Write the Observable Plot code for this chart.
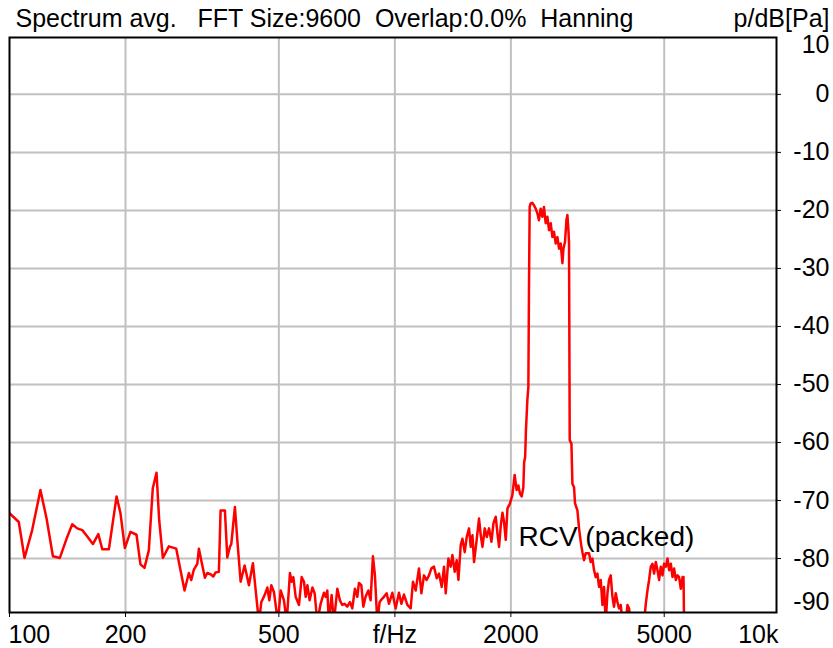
<!DOCTYPE html>
<html><head><meta charset="utf-8">
<script src="https://cdn.jsdelivr.net/npm/d3@7"></script>
<script src="https://cdn.jsdelivr.net/npm/@observablehq/plot@0.6"></script>
<style>
html,body{margin:0;padding:0;background:#fff;}
#chart svg text{white-space:pre;}
</style></head><body><div id="chart"></div>
<script>
// Spectrum readings: [frequency Hz, level dB]
const lowBand = [[96,-68.5],[100,-72.2],[105.7,-73.7],[109.4,-79.9],[114.5,-75.1],[120.3,-68.2],[124.8,-73.1],[129.6,-79.6],[135.1,-79.9],[140.6,-76.6],[145.5,-74.1],[149.9,-74.8],[154.5,-75.1],[159.2,-76.2],[164.6,-77.5],[170.0,-75.8],[174.1,-78.4],[181.1,-78.4],[189.6,-69.3],[194.1,-72.2],[199.2,-78.2],[206.0,-75.4],[213.6,-75.9],[218.7,-81.0],[224.0,-81.6],[229.9,-78.6],[235.4,-67.9],[240.7,-65.2],[244.6,-73.4],[250.0,-79.9],[259.1,-77.9],[270.8,-78.3],[284.6,-85.5],[292.0,-82.5],[296.3,-83.7],[300.9,-81.9],[307.1,-80.9],[310.1,-78.3]];
const midBand = [[315.1,-80.6],[321.4,-83.3],[326.0,-82.5],[332.5,-82.7],[337.9,-83.1],[342.6,-82.4],[349.4,-82.3],[353.0,-71.7],[362.2,-71.7],[367.4,-79.8],[373.1,-78.0],[376.3,-77.5],[384.5,-71.1],[390.1,-76.8],[397.9,-84.0],[407.5,-81.2],[418.1,-84.6],[428.2,-80.8],[443.9,-91],[450.3,-87.5],[459.2,-86.3],[466.7,-85.0],[472.3,-87.2],[478.0,-84.6],[485.6,-85.8],[497.3,-91],[505.4,-85.5],[515.5,-87.2],[523.9,-91],[534.3,-82.5],[539.8,-84.0],[545.2,-83.2],[552.8,-86.6],[563.9,-88.0],[573.0,-83.2],[580.9,-84.0],[586.9,-86.6],[592.9,-84.6],[601.0,-87.2],[611.0,-85.0],[619.4,-86.0],[629.1,-91],[641.7,-87.8],[654.4,-85.9],[661.1,-86.6],[667.9,-85.5],[674.3,-91],[685.3,-86.3],[694.7,-91],[709.1,-85.2],[720.2,-87.2],[730.6,-88.0],[740.6,-87.8],[752.7,-88.3],[764.5,-87.5],[775.4,-88.6],[787.7,-85.2],[799.1,-86.6],[806.8,-84.2],[818.4,-84.6],[828.2,-88.3],[839.4,-86.6],[853.4,-85.5],[865.1,-87.2],[877.1,-79.6],[887.7,-82.9],[900.5,-91],[913.0,-87.5],[927.8,-86.9],[937.0,-86.6],[952.2,-86.0],[965.3,-87.8],[985.1,-85.9]];
const riseBand = [[1004.8,-88.6],[1024.8,-85.9],[1039.6,-87.8],[1055.9,-86.2],[1077.5,-88.0],[1099,-88.6],[1114.3,-84.0],[1132.4,-85.5],[1155,-81.7],[1171.7,-86.0],[1190.1,-82.9],[1209.0,-83.7],[1226.2,-82.9],[1244.1,-81.7],[1263.5,-81.4],[1284.1,-83.4],[1301.8,-82.6],[1323.1,-84.9],[1341.5,-81.4],[1355.1,-86.0],[1377.1,-80.0],[1396.2,-81.4],[1410.5,-79.4],[1429.9,-82.3],[1447.1,-80.3],[1462.0,-83.7],[1482.2,-77.7],[1497.2,-76.6],[1518.0,-78.9],[1536.2,-76.3],[1557.6,-74.8],[1573.7,-78.0],[1589.8,-76.0],[1605.0,-80.6],[1628.3,-77.1],[1653.6,-73.1],[1670.6,-76.0],[1687.7,-78.0],[1711.0,-74.8],[1731.6,-76.3],[1755.7,-74.8],[1781.1,-77.1],[1802.3,-73.9],[1827.3,-72.8],[1846.0,-75.7],[1863.8,-78.0],[1883.0,-74.3],[1902.0,-72.1],[1920.2,-73.7],[1939.7,-76.8],[1959.5,-71.4],[1989.0,-70.5],[2017.7,-69.1],[2045.7,-65.6],[2070.4,-68.2],[2091.6,-67.4],[2111.5,-68.8],[2133.1,-69.3],[2154.8,-67.7],[2165.2,-63.4],[2178.1,-62.5],[2188.7,-57.9],[2207.1,-52.7],[2220.4,-50.4]];
const peakBand = [[2228.4,-33.7],[2237.8,-19.4],[2251.2,-18.8],[2274.3,-18.7],[2296.1,-19.1],[2319.4,-19.7],[2342.9,-20.5],[2365.3,-21.7],[2389.6,-19.7],[2414.0,-21.1],[2437.3,-19.4],[2462.6,-22.2],[2488.1,-21.1],[2512,-23.4],[2537.6,-22.2],[2563.5,-24.6],[2588.1,-23.7],[2614.7,-25.7],[2641.4,-24.6],[2666.7,-26.6],[2693.9,-25.7],[2721.5,-29.1],[2737.8,-26.6],[2764.2,-25.4],[2787.6,-21.7],[2804.1,-20.8],[2821.0,-23.4],[2831.0,-25.7],[2842.8,-59.6],[2872.0,-60.2],[2889.1,-67.1],[2917.0,-67.7],[2934.3,-70.5],[2976.5,-71.7],[3008.9,-75.1],[3045,-77.7]];
const highBand = [[3066.9,-78.9],[3096.7,-80.3],[3128.2,-79.1],[3190.5,-79.1],[3223.0,-80.6],[3255.9,-80.0],[3287.5,-82.0],[3320.7,-83.2],[3354.9,-82.6],[3387.1,-84.9],[3421.9,-83.7],[3456.7,-88.0],[3490.0,-84.9],[3525.6,-91],[3561.4,-86.0],[3595.5,-83.7],[3632.5,-82.9],[3669.5,-86.6],[3704.9,-88.3],[3742.9,-86.0],[3781.1,-87.5],[3817.5,-88.6],[3856.7,-88.0],[3896.0,-91],[3973.8,-91],[4014.4,-88.0],[4053.1,-88.6],[4094.5,-91],[4261.7,-91.5],[4433.6,-91],[4478.6,-87.8],[4524.0,-85.5],[4567.8,-83.7],[4614.4,-81.4],[4661.0,-80.9],[4706.3,-82.6],[4755.0,-80.6],[4803.1,-82.0],[4849.6,-83.7],[4899.0,-81.4],[4949.2,-82.9],[4997.0,-80.9],[5048.1,-81.4],[5099.7,-80.0],[5148.8,-82.0],[5201.5,-80.9],[5254.6,-83.2],[5304.7,-81.7],[5358.8,-83.7],[5413.5,-82.9],[5465.6,-83.2],[5521.2,-85.2],[5578.4,-83.2],[5611.4,-83.2],[5632.0,-92]];
const spectrum = [...lowBand, ...midBand, ...riseBand, ...peakBand, ...highBand];

const xDomain = [100, 9780];
const yDomain = [-89.3, 9.8];
const xGridValues = [200, 500, 1000, 2000, 5000];
const xTickValues = [100, 200, 500, 1000, 2000, 5000];
const xLabelValues = [200, 500, 1000, 2000, 5000];
const xLabelTexts = ["200", "500", "f/Hz", "2000", "5000"];
const xFirstLabel = [{v: 100, t: "100"}];
const xLastLabel = ["10k"];
const yGridValues = [0, -10, -20, -30, -40, -50, -60, -70, -80];
const yTopLabel = [10];
const yBottomLabel = [-90];
const titleText = ["Spectrum avg.   FFT Size:9600  Overlap:0.0%  Hanning"];
const yUnitText = ["p/dB[Pa]"];
const annotations = [{label: "RCV (packed)", f: 2093, db: -76.3}];

const xLabels = xLabelValues.map((v, i) => ({v, t: xLabelTexts[i]}));

const chart = Plot.plot({
  width: 833, height: 648,
  marginLeft: 9, marginRight: 57, marginTop: 37, marginBottom: 36,
  style: {fontFamily: "'Liberation Sans', Arial, sans-serif", fontSize: "25px", background: "white", color: "black"},
  x: {type: "log", domain: xDomain, axis: "bottom", ticks: xTickValues, tickSize: 5, tickFormat: () => "", label: null},
  y: {domain: yDomain, axis: "right", ticks: yGridValues, tickSize: 4, tickFormat: () => "", label: null},
  marks: [
    Plot.ruleX(xGridValues, {x: d => d, stroke: "#c0c0c0", strokeWidth: 2}),
    Plot.ruleY(yGridValues, {y: d => d, stroke: "#c0c0c0", strokeWidth: 2}),
    Plot.line(spectrum, {x: d => d[0], y: d => d[1], stroke: "#ff0000", strokeWidth: 2.5, clip: true}),
    Plot.text(annotations, {x: "f", y: "db", text: "label", textAnchor: "start", lineAnchor: "middle", fontSize: 28, fill: "black", ariaLabel: "annotation"}),
    Plot.frame({stroke: "black", strokeWidth: 2}),
    Plot.text(xLabels, {x: "v", text: "t", frameAnchor: "bottom", lineAnchor: "middle", dy: 22, fill: "black"}),
    Plot.text(xFirstLabel, {x: "v", text: "t", frameAnchor: "bottom", lineAnchor: "middle", dy: 22, textAnchor: "start", dx: -1, fill: "black"}),
    Plot.text(xLastLabel, {text: d => d, frameAnchor: "bottom-right", lineAnchor: "middle", dy: 22, dx: 2, textAnchor: "end", fill: "black"}),
    Plot.text(yGridValues, {y: d => d, text: d => String(d), frameAnchor: "right", lineAnchor: "middle", textAnchor: "end", dx: 53, fill: "black"}),
    Plot.text(yTopLabel, {y: d => d, text: d => String(d), frameAnchor: "right", lineAnchor: "middle", textAnchor: "end", dx: 53, dy: 9, fill: "black"}),
    Plot.text(yBottomLabel, {y: d => d, text: d => String(d), frameAnchor: "right", lineAnchor: "middle", textAnchor: "end", dx: 53, dy: -15, fill: "black"}),
    Plot.text(titleText, {text: d => d, frameAnchor: "top-left", lineAnchor: "middle", dx: 6, dy: -19, textAnchor: "start", fontSize: 25, fill: "black"}),
    Plot.text(yUnitText, {text: d => d, frameAnchor: "top-right", lineAnchor: "middle", dx: 53, dy: -19, textAnchor: "end", fontSize: 25, fill: "black"})
  ]
});
document.getElementById("chart").append(chart);

// white background box behind the annotation label
d3.select(chart).selectAll('g[aria-label="annotation"] text').each(function() {
  const b = this.getBBox();
  const rect = document.createElementNS("http://www.w3.org/2000/svg", "rect");
  rect.setAttribute("x", b.x - 3);
  rect.setAttribute("y", b.y - 3);
  rect.setAttribute("width", b.width + 5);
  rect.setAttribute("height", b.height + 3);
  rect.setAttribute("fill", "white");
  const tr = this.getAttribute("transform");
  if (tr) rect.setAttribute("transform", tr);
  this.parentNode.insertBefore(rect, this);
});
</script></body></html>
